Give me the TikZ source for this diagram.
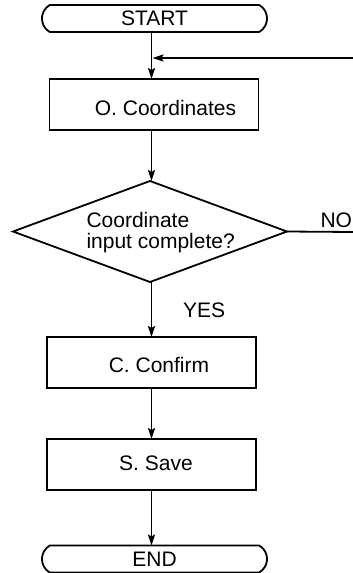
\documentclass[tikz,border=0pt]{standalone}
\usepackage{fontspec}
\setmainfont{Liberation Sans}
\usetikzlibrary{shapes.geometric,shapes.misc,arrows.meta}
\begin{document}
\begin{tikzpicture}[x=1pt,y=-1pt,line width=1.8pt,
    font=\fontsize{21}{21}\selectfont,
    every node/.style={inner sep=0pt,outer sep=0pt},
    term/.style={draw,rounded rectangle,rounded rectangle arc length=120,minimum width=225pt,minimum height=27pt},
    box/.style={draw,rectangle,minimum width=209pt,minimum height=51pt},
    decision/.style={draw,diamond,minimum width=274pt,minimum height=101pt},
    flow/.style={-{Stealth[length=11pt,width=7pt,inset=2pt]}}]
    \useasboundingbox (0,0) rectangle (353,573);
    \coordinate (axis) at (151.5,0);
    \coordinate (loopin) at (353,58);
    \coordinate (noend) at (353,232);
    % blocks
    \node [term] (start) at (154.5,18.5) {START};
    \node [box] (obox) at (154,104.5) {};
    \node (otext) at (165.5,107.5) {O. Coordinates};
    \node [decision] (check) at (150,231.5) {};
    \node [align=left,anchor=north west] (checktext) at (86.5,212.5) {Coordinate\\input complete?};
    \node [box] (cbox) at (151.5,362.5) {};
    \node (ctext) at (159,364.5) {C. Confirm};
    \node [box] (sbox) at (151.5,464.5) {};
    \node (stext) at (156,463) {S. Save};
    \node [term] (finish) at (154.5,559) {END};
    \node [anchor=base west] (yes) at (183,317) {YES};
    \node [anchor=base west] (no) at (320.5,227) {NO};
    % connectors
    \draw [flow] (start.south -| axis) -- (obox.north -| axis);
    \draw [flow] (loopin) -- ([xshift=1pt]loopin -| axis);
    \draw [flow] (obox.south -| axis) -- (check.north -| axis);
    \draw (check.east) -- (noend);
    \draw [flow] (check.south -| axis) -- (cbox.north -| axis);
    \draw [flow] (cbox) -- (sbox);
    \draw [flow] (sbox.south) -- (sbox.south |- finish.north);
\end{tikzpicture}
\end{document}
